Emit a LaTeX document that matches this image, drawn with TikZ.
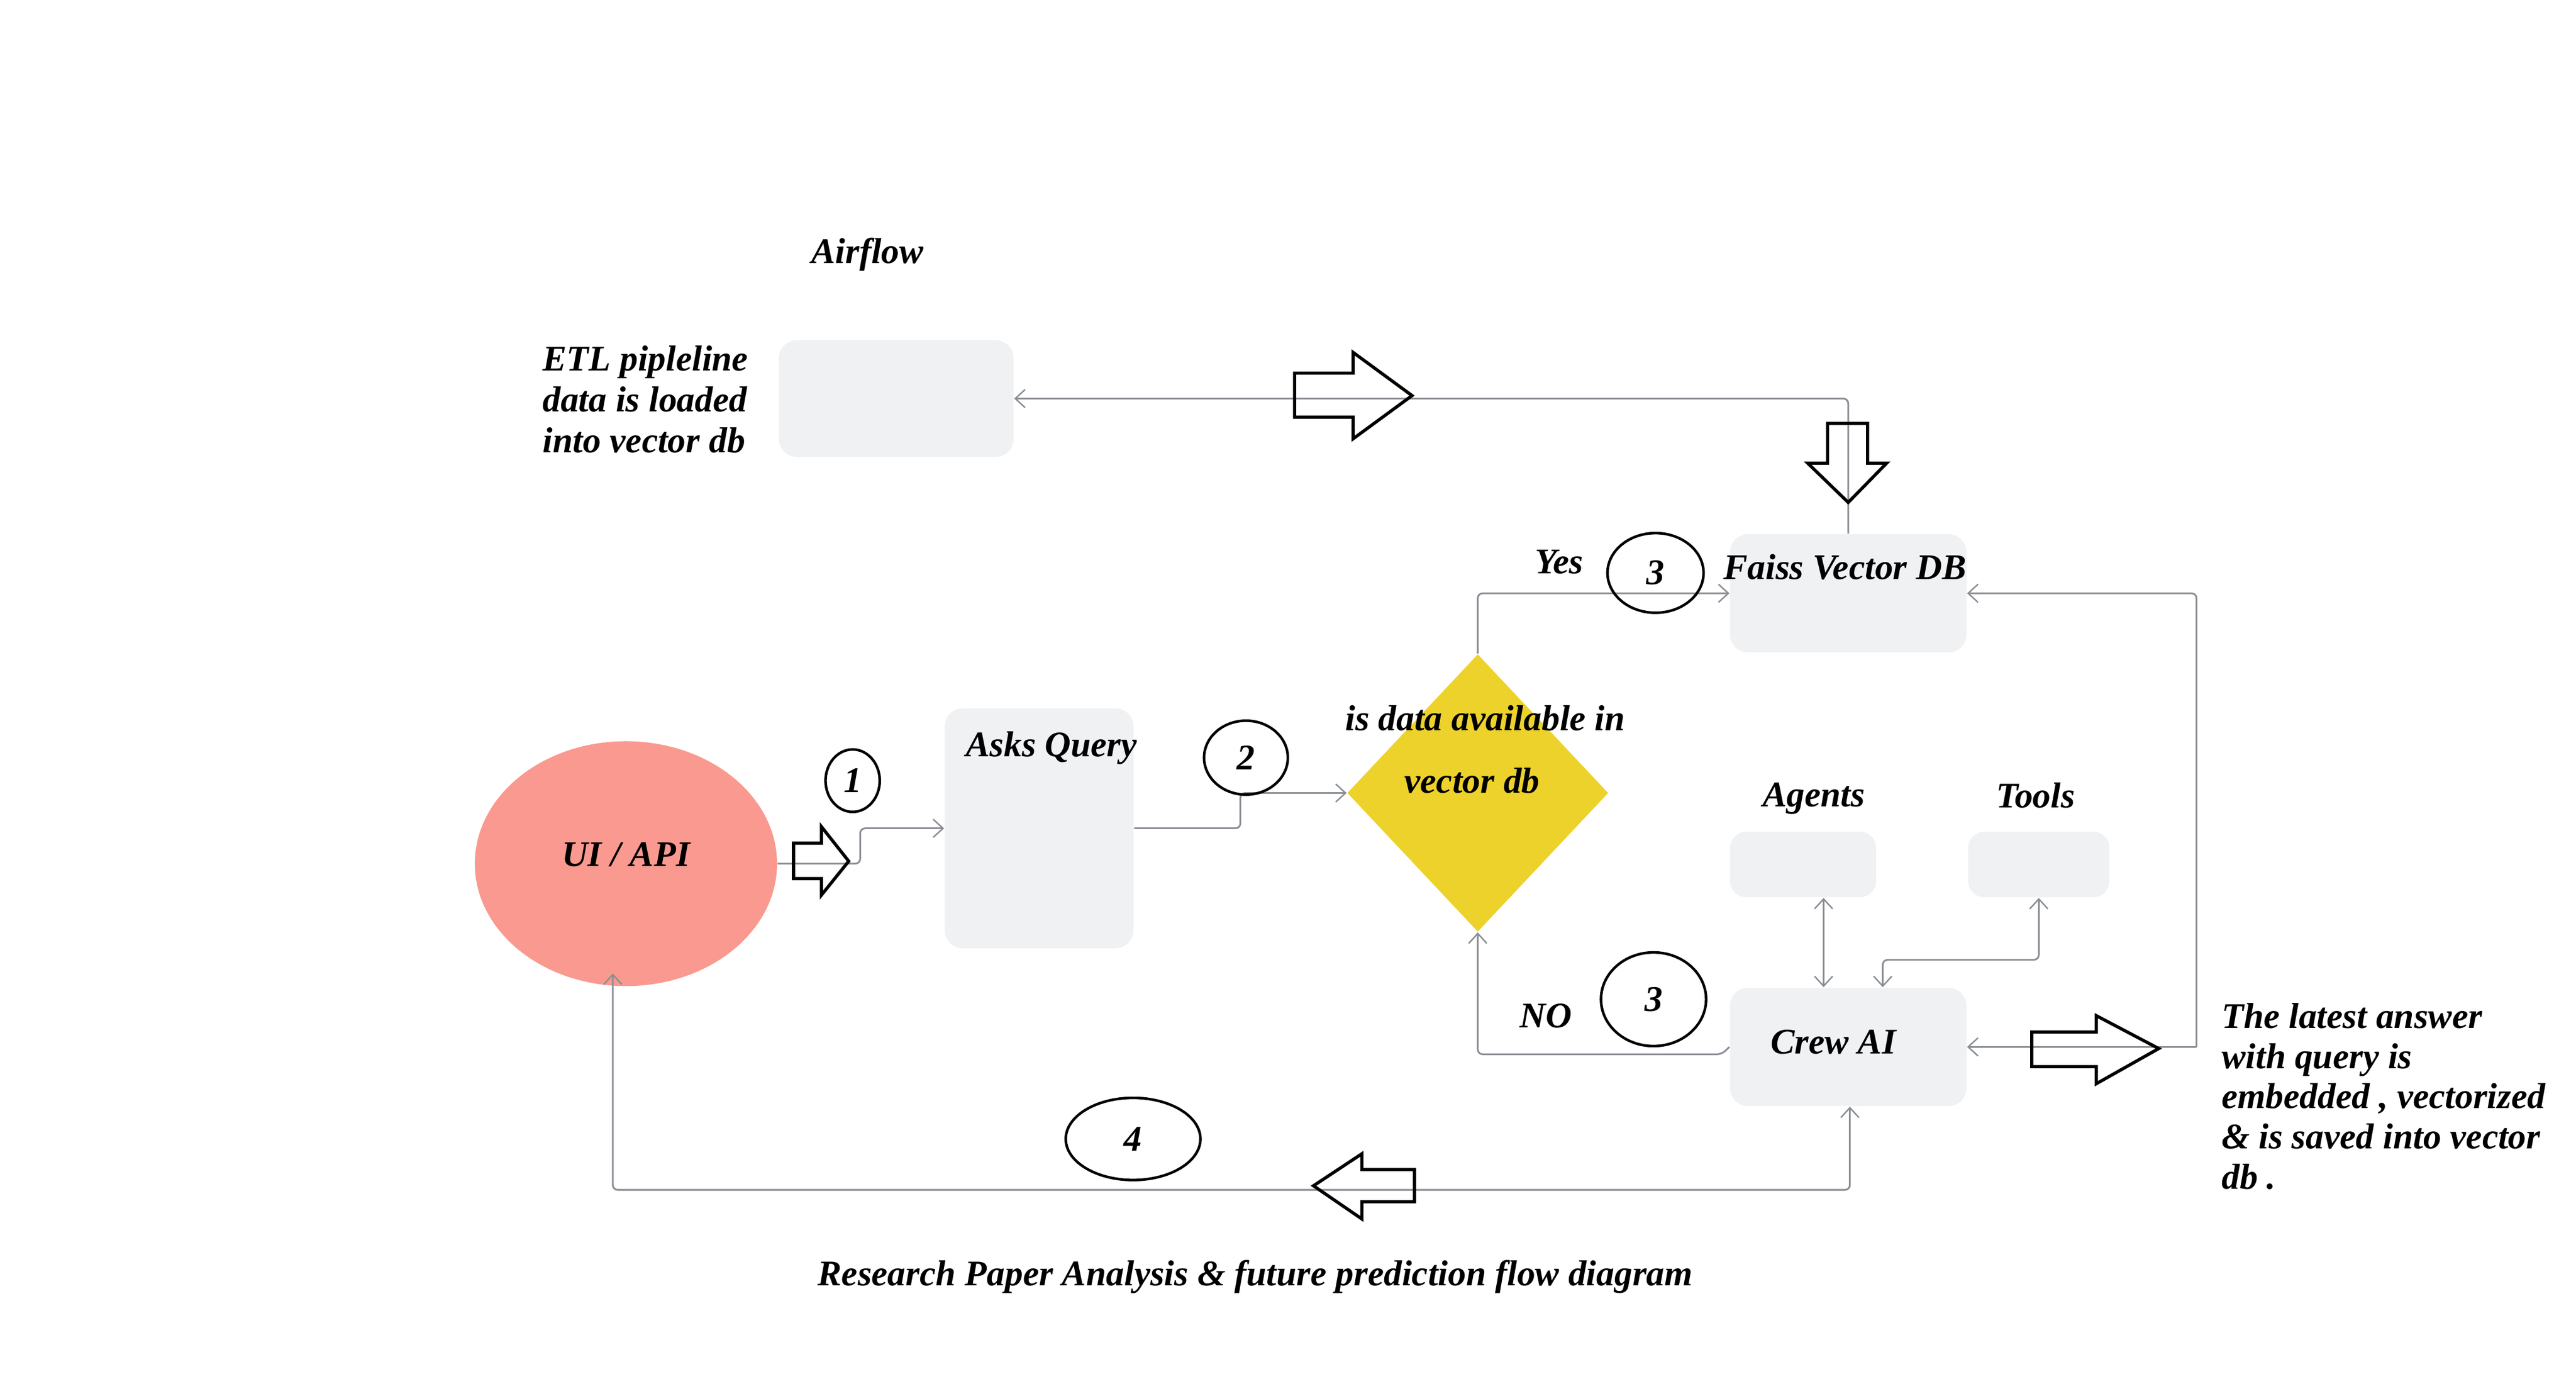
\documentclass[tikz,border=0pt]{standalone}
\usepackage{fontspec}
\setmainfont{Liberation Serif}
\usetikzlibrary{arrows.meta,shapes.geometric}
\definecolor{boxgray}{HTML}{F0F1F3}
\definecolor{linegray}{HTML}{8A8D93}
\definecolor{diayellow}{HTML}{EDD22B}
\definecolor{salmonfill}{HTML}{FA998F}
\tikzset{
  lbl/.style={font=\fontsize{12.5}{14.2}\selectfont\bfseries\itshape, inner sep=0},
  gbox/.style={fill=boxgray, draw=none, rounded corners=0.22cm, inner sep=0},
  conn/.style={draw=linegray, line width=0.6pt, rounded corners=0.06cm},
  tipend/.style={-{Straight Barb[length=1.2mm,width=2.2mm,line width=0.5pt]}},
  tipboth/.style={{Straight Barb[length=1.2mm,width=2.2mm,line width=0.5pt]}-{Straight Barb[length=1.2mm,width=2.2mm,line width=0.5pt]}},
  blkarrow/.style={draw=black, line width=1.1pt, line join=miter},
  numell/.style={ellipse, draw=black, line width=0.9pt, inner sep=0, font=\fontsize{12.5}{14}\selectfont\bfseries\itshape}
}
\begin{document}
\begin{tikzpicture}[x=0.02cm,y=-0.02cm]
\useasboundingbox (0,0) rectangle (1568,836);

% boxes
\node[gbox, minimum width=2.86cm, minimum height=1.42cm] (etl) at (545.5,242.5) {};
\node[gbox, minimum width=2.88cm, minimum height=1.44cm] (faiss) at (1125,361) {};
\node[gbox, minimum width=2.30cm, minimum height=2.92cm] (asks) at (632.5,504) {};
\node[gbox, minimum width=1.78cm, minimum height=0.80cm, rounded corners=0.2cm] (agents) at (1097.5,526) {};
\node[gbox, minimum width=1.72cm, minimum height=0.80cm, rounded corners=0.2cm] (tools) at (1241,526) {};
\node[gbox, minimum width=2.88cm, minimum height=1.44cm] (crew) at (1125,637) {};
\node[diamond, fill=diayellow, minimum width=3.18cm, minimum height=3.38cm, inner sep=0] (dia) at (899.5,482.5) {};
\node[ellipse, fill=salmonfill, minimum width=3.68cm, minimum height=2.98cm, inner sep=0] (ui) at (381,525.5) {};

% helper coordinates
\coordinate (rj) at (1337,637);
\coordinate (ax) at (1110,0);
\coordinate (tx) at (1146,584);
\coordinate (bl) at (373,724);
\coordinate (br) at (1126,724);
\coordinate (cj) at (1048,641.5);

% connectors
\draw[conn, tipend] (faiss.north) |- (etl.east);
\draw[conn, tipend] (dia.north) |- (faiss.west);
\draw[conn, tipend] (rj) -- (crew.east);
\draw[conn, tipend] (rj) |- (faiss.east);
\draw[conn, tipend] (crew.west) -- (cj) -| (dia.south);
\draw[conn, tipend] (asks.east) -- (755,504) |- (dia.west);
\draw[conn, tipend] (ui.east) -| (523.6,504) -- (asks.west);
\draw[conn, tipboth] (agents.south -| ax) -- (crew.north -| ax);
\draw[conn, tipboth] (tools.south) |- (tx) -- (crew.north -| tx);
\draw[conn, tipboth] (crew.south -| br) -- (br) -- (bl) -- ([yshift=0.16cm]ui.south -| bl);

% block arrows
\draw[blkarrow] (788,227) -- (823.6,227) -- (823.6,214.4) -- (859.5,240.7) -- (823.6,267) -- (823.6,253.8) -- (788,253.8) -- cycle;
\draw[blkarrow] (1112.4,257.6) -- (1136.8,257.6) -- (1136.8,281.8) -- (1148.4,281.8) -- (1125,305.7) -- (1100.3,281.8) -- (1112.4,281.8) -- cycle;
\draw[blkarrow] (483,513) -- (500,513) -- (500,503) -- (516.6,524) -- (500,544.6) -- (500,534.6) -- (483,534.6) -- cycle;
\draw[blkarrow] (1236.7,627.9) -- (1276,627.9) -- (1276,618) -- (1314,638) -- (1276,659.4) -- (1276,649) -- (1236.7,649) -- cycle;
\draw[blkarrow] (861,711.6) -- (829,711.6) -- (829,702) -- (799.5,721.5) -- (829,741.7) -- (829,731.2) -- (861,731.2) -- cycle;

% numbered ellipses
\node[numell, minimum width=0.66cm, minimum height=0.76cm] (n1) at (519,475) {1};
\node[numell, minimum width=1.02cm, minimum height=0.90cm] (n2) at (758.4,461) {2};
\node[numell, minimum width=1.17cm, minimum height=0.97cm] (n3a) at (1007.7,348.6) {3};
\node[numell, minimum width=1.28cm, minimum height=1.14cm] (n3b) at (1006.5,608) {3};
\node[numell, minimum width=1.64cm, minimum height=1.00cm] (n4) at (689.7,693) {4};

% labels
\node[lbl] (airflow) at (528,155) {Airflow};
\node[lbl, anchor=west, align=left] (etltxt) at (330,243) {ETL pipleline\\data is loaded\\into vector db};
\node[lbl] (yes) at (949,342) {Yes};
\node[lbl] (faisstxt) at (1123,345) {Faiss Vector DB};
\node[lbl] (askstxt) at (640,455) {Asks Query};
\node[lbl] (diat1) at (904,437) {is data available in};
\node[lbl] (diat2) at (896,475) {vector db};
\node[lbl] (uitxt) at (381,520) {UI / API};
\node[lbl] (notxt) at (941,618) {NO};
\node[lbl] (agtxt) at (1104,486) {Agents};
\node[lbl] (tltxt) at (1239,484) {Tools};
\node[lbl] (crewtxt) at (1116,634) {Crew AI};
\node[lbl, anchor=west, align=left, font=\fontsize{12.5}{13.9}\selectfont\bfseries\itshape] (latest) at (1352,667) {The latest answer\\with query is\\embedded , vectorized\\\& is saved into vector\\db .};
\node[lbl] (caption) at (764,777) {Research Paper Analysis \& future prediction flow diagram};
\end{tikzpicture}
\end{document}
